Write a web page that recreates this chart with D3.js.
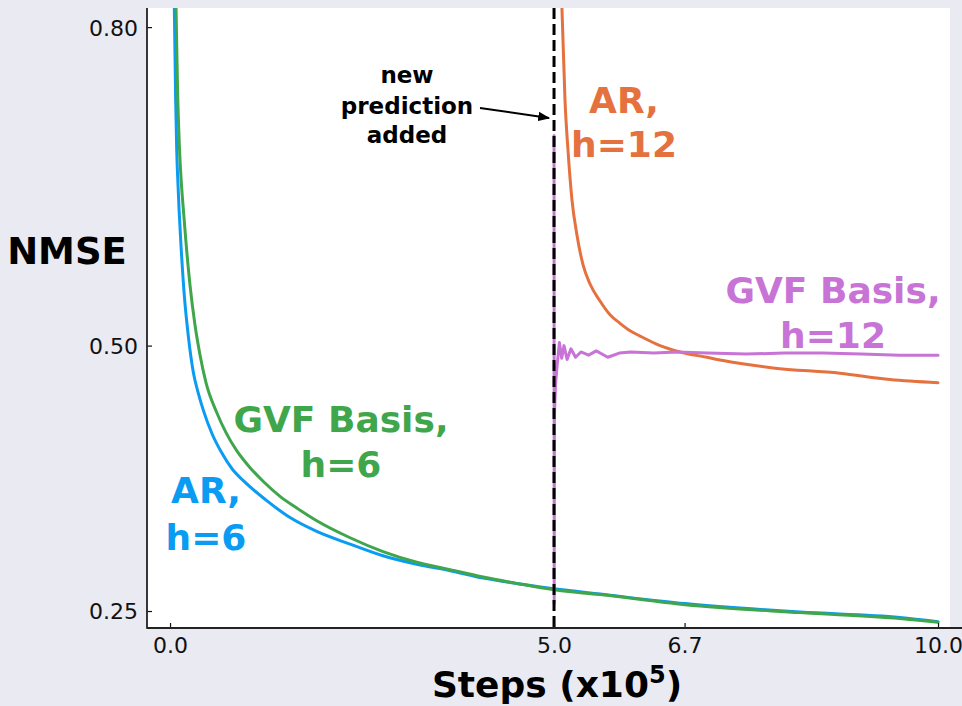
<!DOCTYPE html>
<html>
<head>
<meta charset="utf-8">
<script src="https://cdn.jsdelivr.net/npm/d3@7"></script>
<style>
  html, body { margin: 0; padding: 0; background: #eaeaf2; }
  svg { display: block; font-family: "DejaVu Sans", sans-serif; }
</style>
</head>
<body>
<svg id="chart" width="962" height="706"></svg>
<script>
// ---- data ----
const xTicks = [0.0, 5.0, 6.7, 10.0];
const yTicks = [0.25, 0.50, 0.80];

const arH6X = [0.039, 0.056, 0.072, 0.087, 0.104, 0.117, 0.143, 0.186, 0.238, 0.303, 0.365, 0.434, 0.547, 0.673, 0.807, 0.951, 1.259, 1.5625, 1.91, 2.344, 2.773, 3.212, 3.646, 4.076, 4.514, 5.0, 5.599, 6.706, 8.203, 9.505, 10.0];
const arH6Y = [0.882, 0.818, 0.736, 0.684, 0.651, 0.629, 0.594, 0.547, 0.509, 0.475, 0.456, 0.439, 0.417, 0.399, 0.384, 0.373, 0.354, 0.338, 0.325, 0.313, 0.302, 0.294, 0.288, 0.281, 0.276, 0.271, 0.266, 0.257, 0.249, 0.244, 0.240];

const gvfH6X = [0.059, 0.078, 0.098, 0.121, 0.143, 0.169, 0.208, 0.260, 0.326, 0.391, 0.469, 0.608, 0.729, 0.868, 1.042, 1.215, 1.432, 1.650, 1.910, 2.344, 2.773, 3.212, 3.646, 4.076, 4.514, 5.0, 5.599, 6.706, 8.203, 9.505, 10.0];
const gvfH6Y = [0.882, 0.818, 0.741, 0.689, 0.658, 0.632, 0.597, 0.557, 0.519, 0.491, 0.465, 0.437, 0.418, 0.401, 0.385, 0.372, 0.358, 0.347, 0.335, 0.319, 0.306, 0.296, 0.289, 0.282, 0.276, 0.270, 0.2655, 0.256, 0.2485, 0.243, 0.2395];

const arH12X = [5.078, 5.104, 5.143, 5.182, 5.234, 5.299, 5.378, 5.469, 5.599, 5.729, 5.859, 5.990, 6.120, 6.380, 6.641, 6.992, 7.201, 7.852, 8.724, 9.375, 10.0];
const arH12Y = [0.882, 0.816, 0.731, 0.684, 0.637, 0.604, 0.576, 0.558, 0.542, 0.529, 0.521, 0.514, 0.509, 0.500, 0.494, 0.489, 0.486, 0.479, 0.474, 0.468, 0.465];

const gvfH12X = [5.0, 5.002, 5.005, 5.02, 5.04, 5.07, 5.10, 5.13, 5.17, 5.22, 5.28, 5.35, 5.45, 5.55, 5.70, 5.85, 6.0, 6.3, 6.6, 7.0, 7.5, 8.0, 8.5, 9.0, 9.5, 10.0];
const gvfH12Y = [0.698, 0.257, 0.434, 0.464, 0.481, 0.503, 0.488, 0.500, 0.487, 0.497, 0.489, 0.494, 0.491, 0.495, 0.489, 0.493, 0.494, 0.493, 0.494, 0.493, 0.492, 0.493, 0.493, 0.492, 0.491, 0.491];

const seriesNames = ["AR, h=6", "GVF Basis, h=6", "AR, h=12", "GVF Basis, h=12"];
const seriesColors = ["#0a9cf2", "#3fa64c", "#e5713f", "#c774d6"];
const vlineX = 5.0;
const annotationLines = ["new", "prediction", "added"];

// ---- layout ----
const svg = d3.select("#chart");
const L = 147, R = 950, T = 8, B = 628;
const x = d3.scaleLinear().domain([-0.3, 10.156]).range([L, R]);
const y = d3.scaleLinear().domain([0.234, 0.818]).range([B, T]);

svg.append("rect").attr("x", 0).attr("y", 0).attr("width", 962).attr("height", 706).attr("fill", "#eaeaf2");
svg.append("rect").attr("x", L).attr("y", T).attr("width", R - L).attr("height", B - T).attr("fill", "#ffffff");

const defs = svg.append("defs");
defs.append("clipPath").attr("id", "clip")
  .append("rect").attr("x", L).attr("y", T).attr("width", R - L).attr("height", B - T);

const plot = svg.append("g").attr("clip-path", "url(#clip)");

const series = [
  { xs: arH6X, ys: arH6Y, curve: d3.curveMonotoneX },
  { xs: gvfH6X, ys: gvfH6Y, curve: d3.curveMonotoneX },
  { xs: arH12X, ys: arH12Y, curve: d3.curveMonotoneX },
  { xs: gvfH12X, ys: gvfH12Y, curve: d3.curveLinear }
];

series.forEach((s, i) => {
  const pts = s.xs.map((v, j) => [v, s.ys[j]]);
  const line = d3.line().x(d => x(d[0])).y(d => y(d[1])).curve(s.curve);
  plot.append("path")
    .datum(pts)
    .attr("d", line)
    .attr("fill", "none")
    .attr("stroke", seriesColors[i])
    .attr("stroke-width", 3)
    .attr("stroke-linejoin", "round")
    .attr("stroke-linecap", "round");
});

// dashed vertical line
plot.append("line")
  .attr("x1", x(vlineX)).attr("x2", x(vlineX))
  .attr("y1", T).attr("y2", B)
  .attr("stroke", "#000").attr("stroke-width", 3)
  .attr("stroke-dasharray", "11,5");

// axes
const yAxis = d3.axisLeft(y).tickValues(yTicks).tickFormat(d3.format(".2f")).tickSize(-5).tickPadding(9);
const xAxis = d3.axisBottom(x).tickValues(xTicks).tickFormat(d3.format(".1f")).tickSize(-5).tickPadding(9);

const gy = svg.append("g").attr("transform", `translate(${L},0)`).call(yAxis);
const gx = svg.append("g").attr("transform", `translate(0,${B})`).call(xAxis);
[gx, gy].forEach(g => {
  g.selectAll("text").attr("font-family", "DejaVu Sans, sans-serif").attr("font-size", 22).attr("fill", "#111");
  g.selectAll(".tick line").attr("stroke", "#111").attr("stroke-width", 1.2);
  g.select(".domain").remove();
});
gy.selectAll("text").attr("dy", "0.36em");
svg.append("line").attr("x1", L).attr("x2", L).attr("y1", T).attr("y2", B + 0.75).attr("stroke", "#222").attr("stroke-width", 1.8);
svg.append("line").attr("x1", L).attr("x2", 962).attr("y1", B).attr("y2", B).attr("stroke", "#222").attr("stroke-width", 1.8);

// axis titles
svg.append("text").attr("x", 67).attr("y", 264).attr("text-anchor", "middle")
  .attr("font-size", 37).attr("font-weight", "bold").attr("fill", "#000").text("NMSE");
const xt = svg.append("text").attr("x", 557).attr("y", 697).attr("text-anchor", "middle")
  .attr("font-size", 36).attr("font-weight", "bold").attr("fill", "#000");
xt.append("tspan").text("Steps (x10");
xt.append("tspan").attr("font-size", 24).attr("dy", -14).text("5");
xt.append("tspan").attr("dy", 14).text(")");

// series labels
const labelPos = [
  { cx: 206, y1: 503, y2: 550 },
  { cx: 341, y1: 432, y2: 477 },
  { cx: 624, y1: 113, y2: 157 },
  { cx: 833, y1: 303, y2: 348 }
];
seriesNames.forEach((name, i) => {
  const parts = [name.slice(0, name.indexOf(",") + 1), name.slice(name.indexOf(",") + 2)];
  const p = labelPos[i];
  parts.forEach((t, k) => {
    svg.append("text").attr("x", p.cx).attr("y", k === 0 ? p.y1 : p.y2)
      .attr("text-anchor", "middle").attr("font-size", 36).attr("font-weight", "bold")
      .attr("fill", seriesColors[i]).text(t);
  });
});

// annotation
const annY = [83, 114, 143];
annotationLines.forEach((t, k) => {
  svg.append("text").attr("x", 407).attr("y", annY[k]).attr("text-anchor", "middle")
    .attr("font-size", 23).attr("font-weight", "bold").attr("fill", "#000").text(t);
});
defs.append("marker").attr("id", "arrow")
  .attr("viewBox", "0 0 10 10").attr("refX", 9).attr("refY", 5)
  .attr("markerWidth", 6).attr("markerHeight", 6).attr("orient", "auto")
  .attr("markerUnits", "strokeWidth")
  .append("path").attr("d", "M0,1 L10,5 L0,9 z").attr("fill", "#000");
svg.append("line").attr("x1", 480).attr("y1", 108).attr("x2", 549).attr("y2", 118)
  .attr("stroke", "#000").attr("stroke-width", 2).attr("marker-end", "url(#arrow)");
</script>
</body>
</html>
